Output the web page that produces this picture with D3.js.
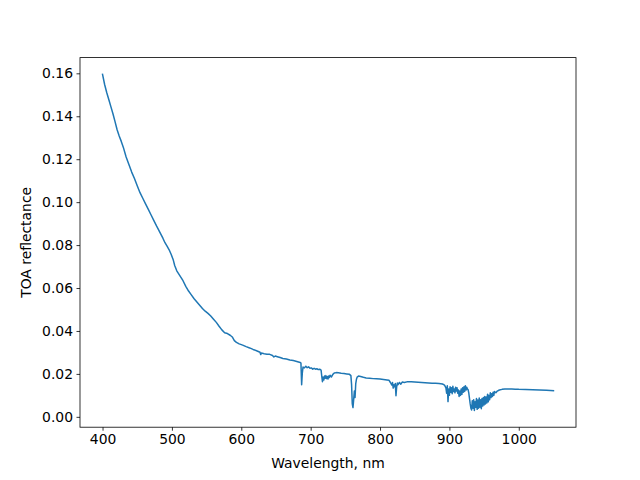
<!DOCTYPE html>
<html>
<head>
<meta charset="utf-8">
<script src="https://cdn.jsdelivr.net/npm/d3@7"></script>
<style>
  body { margin: 0; background: #fff; }
  svg { display: block; }
  text { font-family: "DejaVu Sans", sans-serif; }
</style>
</head>
<body>
<svg id="chart" width="640" height="480"></svg>
<script>
const wavelength = [
  400,403,406,409,412,415,418,421,424,427,430,434,438,442,446,450,454,458,462,466,470,474,478,481,484,487,490,493,496,499,
  502,504,507,510,513,516,520,524,528,532,536,540,544,548,552,556,560,564,568,572,576,580,584,587,590,593,597,602,607,612,
  617,622,627,628,629,633,637,641,645,647,649,652,656,660,665,670,675,680,685,686,687,688,689,691,693,695,697,699,701,703,
  705,707,709,711,713,715,716,717,718,719,720,721,722,723,724,725,726,727,728,730,732,734,737,740,744,748,752,756,758,759,
  760,761,762,763,764,765,766,767,769,772,776,780,785,790,795,800,805,810,813,815,817,818,819,820,821,822,823,824,825,826,
  828,830,832,835,840,845,850,855,860,865,870,875,880,885,890,893,895,896,897,898,899,900,901,902,903,904,905,906,907,908,
  909,910,911,912,913,914,915,916,917,918,919,920,921,922,923,924,925,926,927,928,929,930,931,932,933,934,935,936,937,938,
  939,940,941,942,943,944,945,946,947,948,949,950,951,952,953,954,955,956,957,958,959,960,961,962,963,964,965,967,969,972,
  976,980,985,990,995,1000,1010,1020,1030,1040,1050
];
const reflectance = [
  0.1595,0.1548,0.1511,0.1478,0.1445,0.1412,0.1375,0.1337,0.1308,0.1283,0.1255,0.1210,0.1175,0.1140,0.1110,0.1076,0.1044,0.1018,0.0992,0.0966,0.0940,0.0914,0.0888,0.0870,0.0851,0.0832,0.0811,0.0795,0.0778,0.0756,
  0.0730,0.0705,0.0680,0.0665,0.0650,0.0634,0.0608,0.0586,0.0568,0.0550,0.0535,0.0520,0.0505,0.0492,0.0482,0.0470,0.0455,0.0440,0.0422,0.0405,0.0392,0.0388,0.0380,0.0372,0.0355,0.0347,0.0340,0.0334,0.0327,0.0321,
  0.0314,0.0308,0.0301,0.0290,0.0297,0.0294,0.0292,0.0291,0.0286,0.0279,0.0283,0.0280,0.0276,0.0272,0.0269,0.0265,0.0262,0.0258,0.0253,0.0250,0.0150,0.0205,0.0232,0.0228,0.0236,0.0229,0.0233,0.0226,0.0228,0.0222,
  0.0226,0.0222,0.0224,0.0220,0.0222,0.0218,0.0190,0.0164,0.0185,0.0172,0.0190,0.0180,0.0192,0.0178,0.0188,0.0176,0.0190,0.0183,0.0194,0.0186,0.0198,0.0204,0.0206,0.0205,0.0203,0.0202,0.0200,0.0198,0.0192,0.0150,
  0.0060,0.0043,0.0080,0.0120,0.0090,0.0155,0.0175,0.0185,0.0190,0.0188,0.0184,0.0181,0.0180,0.0178,0.0177,0.0176,0.0174,0.0172,0.0170,0.0160,0.0148,0.0160,0.0134,0.0150,0.0140,0.0155,0.0098,0.0140,0.0158,0.0150,
  0.0160,0.0152,0.0162,0.0160,0.0164,0.0163,0.0162,0.0161,0.0160,0.0159,0.0158,0.0157,0.0156,0.0155,0.0153,0.0148,0.0135,0.0110,0.0145,0.0071,0.0130,0.0100,0.0140,0.0115,0.0135,0.0108,0.0142,0.0118,0.0130,0.0112,
  0.0138,0.0120,0.0135,0.0110,0.0125,0.0095,0.0120,0.0100,0.0130,0.0105,0.0135,0.0115,0.0140,0.0118,0.0145,0.0125,0.0138,0.0130,0.0126,0.0110,0.0085,0.0060,0.0040,0.0032,0.0075,0.0040,0.0080,0.0030,0.0070,0.0045,
  0.0085,0.0035,0.0078,0.0040,0.0088,0.0045,0.0080,0.0038,0.0085,0.0050,0.0090,0.0055,0.0095,0.0060,0.0092,0.0065,0.0105,0.0070,0.0100,0.0080,0.0112,0.0090,0.0108,0.0095,0.0115,0.0100,0.0118,0.0112,0.0120,0.0125,
  0.0128,0.0130,0.0130,0.0130,0.0129,0.0128,0.0127,0.0126,0.0125,0.0124,0.0122
];
const xTicks = [400, 500, 600, 700, 800, 900, 1000];
const yTicks = [0.00, 0.02, 0.04, 0.06, 0.08, 0.10, 0.12, 0.14, 0.16];
const xLabel = "Wavelength, nm";
const yLabel = "TOA reflectance";

(function () {
  const W = 640, H = 480;
  const mL = 80, mR = 576, mT = 57.6, mB = 427.2;

  const data = wavelength.map((w, i) => ({w: w, r: reflectance[i]}));

  const xe = d3.extent(wavelength), ye = d3.extent(reflectance);
  const xm = (xe[1] - xe[0]) * 0.05, ym = (ye[1] - ye[0]) * 0.05;
  const x = d3.scaleLinear().domain([xe[0] - xm, xe[1] + xm]).range([mL, mR]);
  const y = d3.scaleLinear().domain([ye[0] - ym, ye[1] + ym]).range([mB, mT]);

  const svg = d3.select("#chart");
  svg.append("rect").attr("width", W).attr("height", H).attr("fill", "#fff");

  const line = d3.line().x(d => x(d.w)).y(d => y(d.r));
  svg.append("path").datum(data)
    .attr("d", line)
    .attr("fill", "none")
    .attr("stroke", "#1f77b4")
    .attr("stroke-width", 1.5)
    .attr("stroke-linejoin", "round")
    .attr("stroke-linecap", "square");

  const xAxis = d3.axisBottom(x).tickValues(xTicks).tickSize(3.5).tickPadding(3.5).tickFormat(d3.format("d"));
  const gx = svg.append("g").attr("transform", `translate(0,${mB})`).call(xAxis);
  const yAxis = d3.axisLeft(y).tickValues(yTicks).tickSize(3.5).tickPadding(3.5).tickFormat(d3.format(".2f"));
  const gy = svg.append("g").attr("transform", `translate(${mL},0)`).call(yAxis);

  [gx, gy].forEach(g => {
    g.select(".domain").remove();
    g.selectAll(".tick line").attr("stroke", "#000").attr("stroke-width", 0.8);
    g.selectAll(".tick text").attr("fill", "#000").style("font-size", "13.9px").style("font-family", "DejaVu Sans, sans-serif");
  });

  svg.append("rect")
    .attr("x", mL).attr("y", mT)
    .attr("width", mR - mL).attr("height", mB - mT)
    .attr("fill", "none").attr("stroke", "#000").attr("stroke-width", 0.8);

  svg.append("text")
    .attr("x", (mL + mR) / 2).attr("y", 467.5)
    .attr("text-anchor", "middle")
    .style("font-size", "13.9px")
    .text(xLabel);

  svg.append("text")
    .attr("transform", `translate(31,${(mT + mB) / 2}) rotate(-90)`)
    .attr("text-anchor", "middle")
    .style("font-size", "13.9px")
    .text(yLabel);
})();
</script>
</body>
</html>
